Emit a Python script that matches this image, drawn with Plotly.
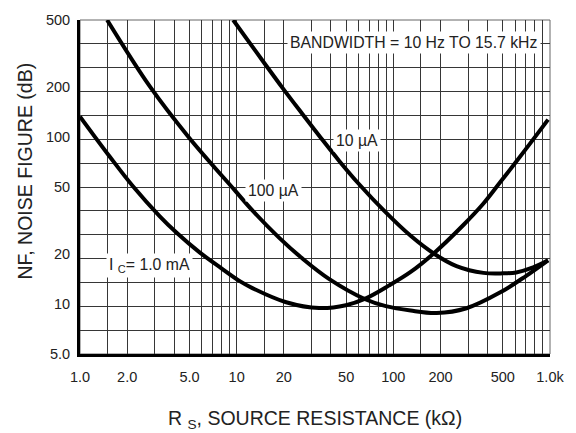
import numpy as np
import plotly.graph_objects as go

# ---- data ----
rs_1ma = [1.0, 1.55, 2.17, 3.23, 4.14, 5.8, 7.77, 10.4, 12.6, 20.7, 33.6, 49.8, 66.8, 93.5, 129, 181, 280, 376, 482, 695, 972]
nf_1ma = [132, 75.9, 50.7, 33.4, 26.6, 20.3, 16.6, 13.7, 12.4, 10.2, 9.42, 9.8, 10.77, 12.83, 15.5, 20.0, 29.6, 39.8, 53.5, 83.4, 126.6]

rs_100ua = [1.49, 2.79, 5.0, 9.8, 12.6, 18.7, 26.2, 38.8, 66.8, 89.5, 129, 189, 293, 482, 705, 972]
nf_100ua = [500, 200, 98, 47.4, 36.2, 24.8, 18.7, 14.1, 10.6, 9.67, 9.1, 8.8, 9.4, 11.7, 14.7, 18.2]

rs_10ua = [9.5, 12.04, 15.0, 19.5, 26.2, 34.6, 45.0, 60.3, 86.9, 129, 181, 253, 376, 500, 609, 781, 972]
nf_10ua = [500, 367, 276.5, 197.5, 137.3, 98.0, 71.9, 52.1, 36.2, 25.5, 20.0, 16.8, 15.3, 15.2, 15.4, 16.5, 18.2]

x_tick_vals = [1, 2, 5, 10, 20, 50, 100, 200, 500, 1000]
x_tick_text = ["1.0", "2.0", "5.0", "10", "20", "50", "100", "200", "500", "1.0k"]
y_tick_vals = [5, 10, 20, 50, 100, 200, 500]
y_tick_text = ["5.0", "10", "20", "50", "100", "200", "500"]

# grid: 1, 1.5, 2..9 per decade on x; 14 equal log steps on y
x_grid = [m * d for d in (1, 10, 100) for m in (1, 1.5, 2, 3, 4, 5, 6, 7, 8, 9)] + [1000]
y_grid = [10 ** (np.log10(5) + k * 2 / 14) for k in range(15)]

FONT = "Liberation Sans, Arial, sans-serif"
TXT = "#222222"
GRID = "#363636"

fig = go.Figure()
for xs, ys in [(rs_1ma, nf_1ma), (rs_100ua, nf_100ua), (rs_10ua, nf_10ua)]:
    fig.add_trace(go.Scatter(x=xs, y=ys, mode="lines",
                             line=dict(color="black", width=4, shape="spline", smoothing=1),
                             showlegend=False, hoverinfo="skip"))

fig.update_layout(
    width=576, height=433,
    margin=dict(l=80, r=24, t=12, b=79),
    paper_bgcolor="white", plot_bgcolor="white",
    font=dict(family=FONT, color=TXT),
    xaxis=dict(type="log", range=[0, 3], tickmode="array", tickvals=x_tick_vals, ticktext=x_tick_text,
               showgrid=True, gridcolor=GRID, gridwidth=1, ticks="", ticklabelstandoff=8,
               tickfont=dict(size=14.5, color=TXT),
               minor=dict(tickmode="array", tickvals=x_grid, showgrid=True, gridcolor=GRID, gridwidth=1, ticks=""),
               showline=True, linecolor="black", linewidth=3, zeroline=False),
    yaxis=dict(type="log", range=[np.log10(5), np.log10(500)], tickmode="array", tickvals=y_tick_vals,
               ticktext=y_tick_text, showgrid=False, ticks="", ticklabelstandoff=4,
               tickfont=dict(size=14.5, color=TXT),
               minor=dict(tickmode="array", tickvals=y_grid, showgrid=True, gridcolor=GRID, gridwidth=1, ticks=""),
               showline=True, linecolor="black", linewidth=3, zeroline=False),
)

fig.add_shape(type="rect", xref="paper", yref="paper", x0=0, x1=1, y0=0, y1=1,
              line=dict(color="#666666", width=1), layer="below")

def lab(text, x, y):
    fig.add_annotation(text=text, x=np.log10(x), y=np.log10(y), xref="x", yref="y",
                       showarrow=False, bgcolor="white", borderpad=2,
                       font=dict(size=15.8, family=FONT, color=TXT))

lab("BANDWIDTH = 10 Hz TO 15.7 kHz", 135, 367)
lab("10 µA", 58.5, 95.5)
lab("100 µA", 17.1, 47.4)
lab("I <sub>C</sub>= 1.0 mA", 2.79, 17.0)

fig.add_annotation(text="NF, NOISE FIGURE (dB)", xref="paper", yref="paper", x=-0.1165, y=0.547,
                   textangle=-90, showarrow=False, xanchor="center", yanchor="middle",
                   font=dict(size=19.5, family=FONT, color=TXT))
fig.add_annotation(text="R <sub>S</sub>, SOURCE RESISTANCE (kΩ)", xref="paper", yref="paper", x=0.5, y=-0.196,
                   showarrow=False, xanchor="center", yanchor="middle",
                   font=dict(size=19.5, family=FONT, color=TXT))

fig.write_html("out.html")
